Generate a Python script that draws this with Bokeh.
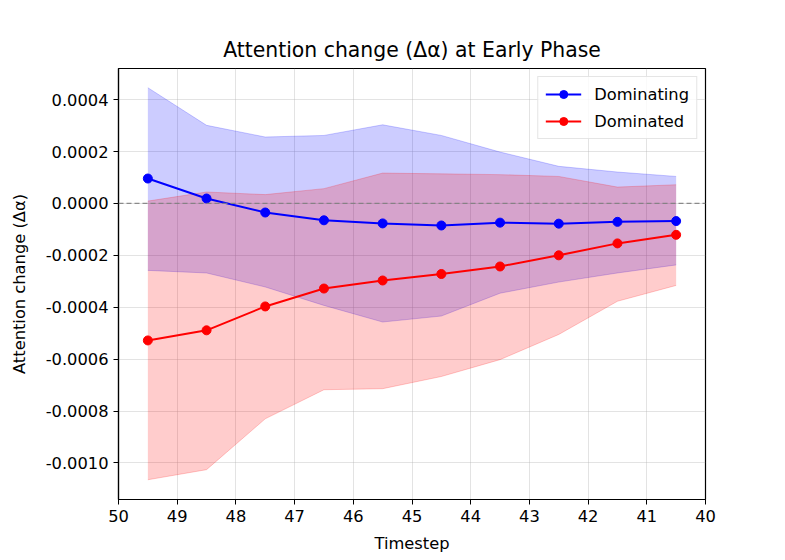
from bokeh.plotting import figure
from bokeh.models import Range1d, FixedTicker, PrintfTickFormatter, Span, Legend, LegendItem
from bokeh.embed import file_html
from bokeh.resources import INLINE

# Data
timesteps = [49.5, 48.5, 47.5, 46.5, 45.5, 44.5, 43.5, 42.5, 41.5, 40.5]
dominating_mean = [0.000096, 0.000019, -0.000035, -0.000065, -0.000077, -0.000085, -0.000074, -0.000078, -0.000071, -0.000068]
dominating_upper = [0.000446, 0.000301, 0.000256, 0.000262, 0.000303, 0.000262, 0.000198, 0.000143, 0.000121, 0.000104]
dominating_lower = [-0.000258, -0.000268, -0.000322, -0.000393, -0.000457, -0.000434, -0.000346, -0.000303, -0.000268, -0.000237]
dominated_mean = [-0.000528, -0.000489, -0.000397, -0.000328, -0.000297, -0.000272, -0.000243, -0.000200, -0.000154, -0.000121]
dominated_upper = [0.000009, 0.000044, 0.000034, 0.000057, 0.000117, 0.000114, 0.000111, 0.000104, 0.000063, 0.000072]
dominated_lower = [-0.001065, -0.001026, -0.000830, -0.000718, -0.000714, -0.000667, -0.000602, -0.000505, -0.000377, -0.000316]
x_ticks = [40, 41, 42, 43, 44, 45, 46, 47, 48, 49, 50]
y_ticks = [-0.0010, -0.0008, -0.0006, -0.0004, -0.0002, 0.0, 0.0002, 0.0004]

FONT = "DejaVu Sans"
FS = "16.3px"

p = figure(width=780, height=555, output_backend="svg", toolbar_location=None,
           x_range=Range1d(50, 40), y_range=Range1d(-0.001141, 0.000520),
           title="Attention change (Δα) at Early Phase",
           min_border_left=118, min_border_right=75, min_border_top=68, min_border_bottom=56)

p.title.align = "center"
p.title.text_font = FONT
p.title.text_font_size = "20.4px"
p.title.text_font_style = "normal"
p.title.text_color = "black"
p.title.standoff = 13

p.outline_line_color = "black"
p.outline_line_width = 1.2

for ax in (p.xaxis[0], p.yaxis[0]):
    ax.axis_line_color = "black"
    ax.axis_line_width = 1.2
    ax.major_tick_line_color = "black"
    ax.major_tick_out = 5
    ax.major_tick_in = 0
    ax.minor_tick_out = 0
    ax.minor_tick_in = 0
    ax.major_label_text_font = FONT
    ax.major_label_text_font_size = FS
    ax.major_label_text_color = "black"
    ax.axis_label_text_font = FONT
    ax.axis_label_text_font_size = FS
    ax.axis_label_text_font_style = "normal"
    ax.axis_label_text_color = "black"

p.xaxis.ticker = FixedTicker(ticks=x_ticks)
p.yaxis.ticker = FixedTicker(ticks=y_ticks)
p.yaxis.formatter = PrintfTickFormatter(format="%.4f")
p.xaxis.axis_label = "Timestep"
p.yaxis.axis_label = "Attention change (Δα)"
p.xaxis.major_label_standoff = 5
p.yaxis.major_label_standoff = 5
p.yaxis.axis_label_standoff = 14
p.xaxis.axis_label_standoff = 9

p.grid.grid_line_color = "#b0b0b0"
p.grid.grid_line_alpha = 0.35
p.grid.grid_line_width = 1

# bands
p.varea(x=timesteps, y1=dominating_lower, y2=dominating_upper, fill_color="blue", fill_alpha=0.2)
p.line(timesteps, dominating_upper, line_color="blue", line_alpha=0.2, line_width=1)
p.line(timesteps, dominating_lower, line_color="blue", line_alpha=0.2, line_width=1)
p.varea(x=timesteps, y1=dominated_lower, y2=dominated_upper, fill_color="red", fill_alpha=0.2)
p.line(timesteps, dominated_upper, line_color="red", line_alpha=0.2, line_width=1)
p.line(timesteps, dominated_lower, line_color="red", line_alpha=0.2, line_width=1)

zero = Span(location=0, dimension="width", line_color="gray", line_dash="5 3", line_width=1.2, line_alpha=0.9)
p.add_layout(zero)

l1 = p.line(timesteps, dominating_mean, line_color="blue", line_width=2)
s1 = p.scatter(timesteps, dominating_mean, size=9, color="blue")
l2 = p.line(timesteps, dominated_mean, line_color="red", line_width=2)
s2 = p.scatter(timesteps, dominated_mean, size=9, color="red")

legend = Legend(items=[LegendItem(label="Dominating", renderers=[l1, s1]),
                       LegendItem(label="Dominated", renderers=[l2, s2])],
                location="top_right")
legend.margin = 8
legend.padding = 7
legend.spacing = 7
legend.glyph_width = 36
legend.glyph_height = 20
legend.label_standoff = 13
legend.label_text_font = FONT
legend.label_text_font_size = FS
legend.label_text_color = "black"
legend.border_line_color = "#cccccc"
legend.background_fill_alpha = 0.8
p.add_layout(legend, "center")

open("out.html", "w").write(file_html(p, INLINE))
